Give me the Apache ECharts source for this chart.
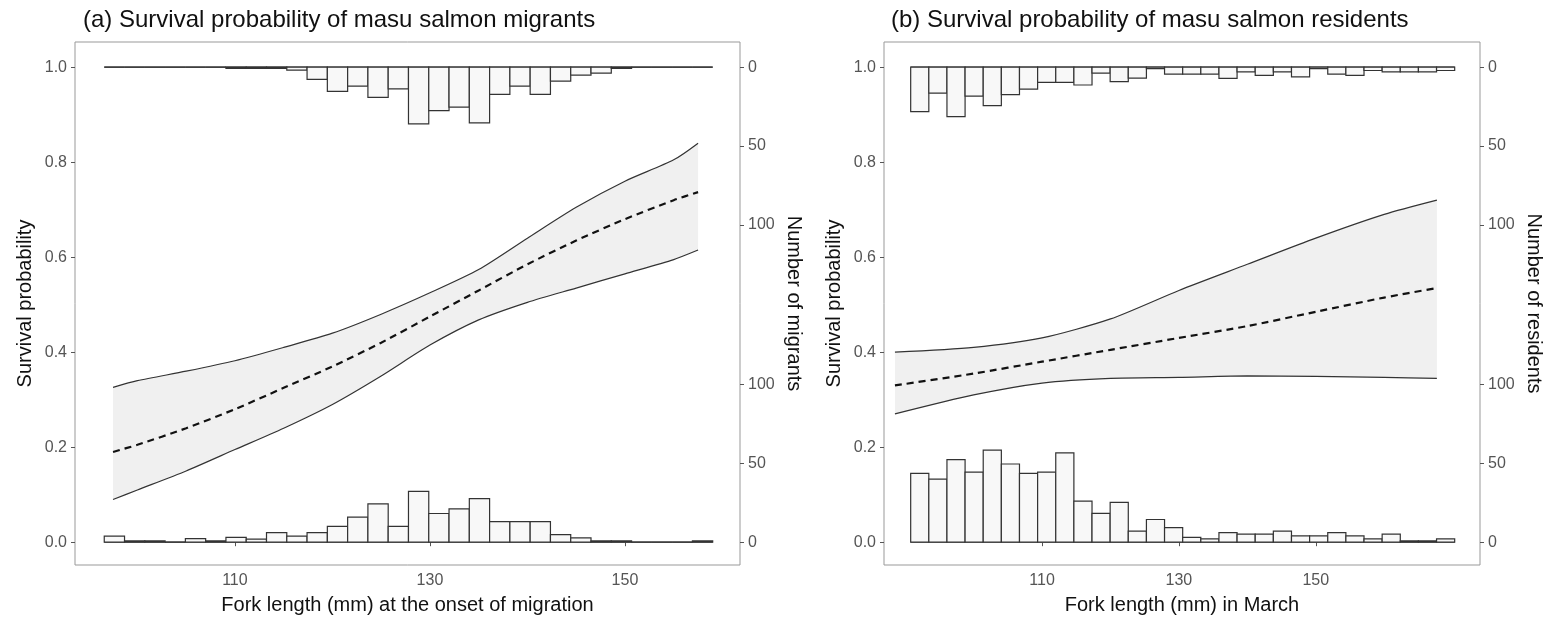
<!DOCTYPE html>
<html>
<head>
<meta charset="utf-8">
<script src="https://cdn.jsdelivr.net/npm/echarts@6/dist/echarts.min.js"></script>
<style>html,body{margin:0;background:#fff}#chart{width:1547px;height:620px}</style>
</head>
<body>
<div id="chart"></div>
<script>
// 直方图计数 -> 生存概率坐标的换算 (50 尾 = 0.166)
var K = 0.00332;

// (a) 洄游型
var migX = [97.5, 100, 105, 110, 115, 120, 125, 130, 135, 140, 145, 150, 155, 157.5];
var migMean = [0.19, 0.205, 0.24, 0.28, 0.325, 0.37, 0.42, 0.475, 0.53, 0.585, 0.635, 0.68, 0.72, 0.737];
var migUpper = [0.326, 0.34, 0.36, 0.382, 0.41, 0.44, 0.48, 0.525, 0.574, 0.64, 0.705, 0.76, 0.805, 0.84];
var migLower = [0.09, 0.11, 0.15, 0.195, 0.24, 0.29, 0.35, 0.415, 0.468, 0.505, 0.535, 0.565, 0.595, 0.615];
var migBinStart = 96.6, migBinWidth = 2.08;
var migDead = [3.8, 0.8, 0.8, 0, 2.3, 0.8, 3, 1.9, 6.1, 3.8, 6.1, 10, 15.9, 24.3, 10, 32.2, 18.2, 21.1, 27.6, 13, 13, 13, 4.8, 2.8, 0.8, 0.8, 0, 0, 0, 0.8];
var migAlive = [0, 0, 0, 0, 0, 0, 0.8, 0.8, 0.8, 1.9, 7.7, 15.3, 12, 19.2, 13.8, 36, 27.6, 25.3, 35.3, 17.3, 12, 17.3, 8.9, 5.1, 3.8, 0.8, 0, 0, 0, 0];

// (b) 残留型
var resX = [88.5, 100, 110, 120, 130, 140, 150, 160, 167.7];
var resMean = [0.33, 0.355, 0.38, 0.405, 0.43, 0.455, 0.485, 0.515, 0.535];
var resUpper = [0.40, 0.41, 0.43, 0.47, 0.53, 0.585, 0.64, 0.69, 0.72];
var resLower = [0.27, 0.31, 0.335, 0.345, 0.347, 0.35, 0.349, 0.347, 0.345];
var resBinStart = 90.8, resBinWidth = 2.65;
var resDead = [43.6, 40, 52.3, 44.4, 58.4, 49.6, 43.6, 44.4, 56.6, 26.1, 18.3, 25.3, 7, 14.4, 9.2, 3.1, 2.1, 6.1, 5.1, 5.1, 7, 4, 4, 6.1, 4, 2.1, 5.1, 0.9, 0.9, 2.1];
var resAlive = [28.2, 16.5, 31.4, 18.3, 24.4, 17.4, 13.9, 9.6, 9.6, 11.3, 3.8, 9.1, 7, 0.9, 4.4, 4.4, 4.4, 7.1, 3, 5.2, 3, 6.1, 0.9, 4.4, 5.2, 2.1, 3, 3, 3, 2.1];

var countTicks = [0, 50, 100, 100, 50, 0];
var countPos = [0, 50 * K, 100 * K, 1 - 100 * K, 1 - 50 * K, 1];

var myChart = echarts.init(document.getElementById('chart'));
var font = 'Liberation Sans';

function pairs(xs, ys) {
    return xs.map(function (x, i) { return [x, ys[i]]; });
}

function histSeries(idx, start, width, counts, top) {
    var data = counts.map(function (c, i) { return [start + i * width, start + (i + 1) * width, c]; });
    return {
        type: 'custom', xAxisIndex: idx, yAxisIndex: idx * 2, z: 3,
        data: data,
        renderItem: function (params, api) {
            var c = api.value(2);
            var y0 = top ? 1 : 0;
            var y1 = top ? 1 - c * K : c * K;
            var p0 = api.coord([api.value(0), y0]);
            var p1 = api.coord([api.value(1), y1]);
            return {
                type: 'rect',
                shape: { x: p0[0], y: Math.min(p0[1], p1[1]), width: p1[0] - p0[0], height: Math.abs(p1[1] - p0[1]) },
                style: { fill: '#f8f8f8', stroke: '#333', lineWidth: 1.2 }
            };
        }
    };
}

// 置信区间带 (多边形)
function bandSeries(idx, xs, upper, lower) {
    return {
        type: 'custom', xAxisIndex: idx, yAxisIndex: idx * 2, z: 1,
        data: [[xs[0], upper[0]]],
        renderItem: function (params, api) {
            var pts = [];
            xs.forEach(function (x, i) { pts.push(api.coord([x, upper[i]])); });
            for (var i = xs.length - 1; i >= 0; i--) pts.push(api.coord([xs[i], lower[i]]));
            return { type: 'polygon', shape: { points: pts }, style: { fill: '#f0f0f0', stroke: null } };
        }
    };
}

function panelSeries(idx, xs, mean, upper, lower, binStart, binWidth, dead, alive) {
    var edgeX = [binStart, binStart + dead.length * binWidth];
    var base = { type: 'line', xAxisIndex: idx, yAxisIndex: idx * 2, symbol: 'none', smooth: 0.25 };
    return [
        bandSeries(idx, xs, upper, lower),
        Object.assign({}, base, { data: pairs(xs, upper), lineStyle: { color: '#333', width: 1.2 }, z: 4 }),
        Object.assign({}, base, { data: pairs(xs, lower), lineStyle: { color: '#333', width: 1.2 }, z: 4 }),
        Object.assign({}, base, { data: pairs(xs, mean), lineStyle: { color: '#111', width: 2.2, type: [7, 5] }, z: 5 }),
        Object.assign({}, base, { data: [[edgeX[0], 1], [edgeX[1], 1]], lineStyle: { color: '#333', width: 1.2 }, z: 2 }),
        Object.assign({}, base, { data: [[edgeX[0], 0], [edgeX[1], 0]], lineStyle: { color: '#333', width: 1.2 }, z: 2 }),
        histSeries(idx, binStart, binWidth, dead, false),
        histSeries(idx, binStart, binWidth, alive, true)
    ];
}

function xAxis(idx, min, max, name) {
    return {
        type: 'value', gridIndex: idx, min: min, max: max,
        splitLine: { show: false },
        axisLine: { show: false },
        axisTick: { show: true, length: 4, lineStyle: { color: '#555' }, customValues: [110, 130, 150] },
        axisLabel: { color: '#555', fontSize: 16, fontFamily: font, customValues: [110, 130, 150] },
        name: name, nameLocation: 'middle', nameGap: 30,
        nameTextStyle: { color: '#111', fontSize: 20, fontFamily: font }
    };
}

function yAxes(idx, rightName) {
    return [{
        type: 'value', gridIndex: idx, min: -0.048, max: 1.053,
        splitLine: { show: false }, axisLine: { show: false },
        axisTick: { show: true, length: 4, lineStyle: { color: '#555' }, customValues: [0, 0.2, 0.4, 0.6, 0.8, 1] },
        axisLabel: { color: '#555', fontSize: 16, fontFamily: font, customValues: [0, 0.2, 0.4, 0.6, 0.8, 1],
            formatter: function (v) { return v.toFixed(1); } },
        name: 'Survival probability', nameLocation: 'middle', nameGap: 40,
        nameTextStyle: { color: '#111', fontSize: 20, fontFamily: font }
    }, {
        type: 'value', gridIndex: idx, position: 'right', min: -0.048, max: 1.053,
        splitLine: { show: false }, axisLine: { show: false },
        axisTick: { show: true, length: 4, lineStyle: { color: '#555' }, customValues: countPos },
        axisLabel: { color: '#555', fontSize: 16, fontFamily: font, customValues: countPos,
            formatter: function (v) {
                var best = 0;
                countPos.forEach(function (p, i) { if (Math.abs(p - v) < Math.abs(countPos[best] - v)) best = i; });
                return String(countTicks[best]);
            } },
        name: rightName, nameLocation: 'middle', nameGap: 44, nameRotate: -90,
        nameTextStyle: { color: '#111', fontSize: 20, fontFamily: font }
    }];
}

var option = {
    animation: false,
    backgroundColor: '#fff',
    title: [
        { text: '(a) Survival probability of masu salmon migrants', left: 78, top: 3, textStyle: { fontSize: 24, fontWeight: 'normal', color: '#111', fontFamily: font } },
        { text: '(b) Survival probability of masu salmon residents', left: 886, top: 3, textStyle: { fontSize: 24, fontWeight: 'normal', color: '#111', fontFamily: font } }
    ],
    grid: [
        { left: 75, right: 807, top: 42, bottom: 54, show: true, borderColor: '#999', borderWidth: 1 },
        { left: 884, right: 67, top: 42, bottom: 54, show: true, borderColor: '#999', borderWidth: 1 }
    ],
    xAxis: [
        xAxis(0, 93.6, 161.8, 'Fork length (mm) at the onset of migration'),
        xAxis(1, 86.9, 174, 'Fork length (mm) in March')
    ],
    yAxis: yAxes(0, 'Number of migrants').concat(yAxes(1, 'Number of residents')),
    series: panelSeries(0, migX, migMean, migUpper, migLower, migBinStart, migBinWidth, migDead, migAlive)
        .concat(panelSeries(1, resX, resMean, resUpper, resLower, resBinStart, resBinWidth, resDead, resAlive))
};

myChart.setOption(option);
</script>
</body>
</html>
